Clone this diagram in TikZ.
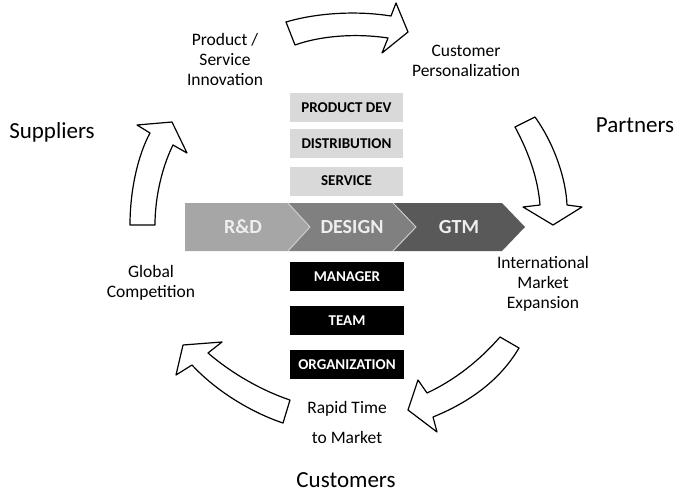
\documentclass[tikz,border=0pt]{standalone}
\usepackage{fontspec}
\setmainfont{Carlito}
\definecolor{boxgray}{HTML}{D9D9D9}
\definecolor{chevA}{HTML}{A6A6A6}
\definecolor{chevB}{HTML}{808080}
\definecolor{chevC}{HTML}{595959}
\definecolor{chevtext}{HTML}{EEEEEE}
\definecolor{sepline}{HTML}{D0D0D0}
\begin{document}
\begin{tikzpicture}[x=1pt,y=-1pt,
  lbl/.style={font=\fontsize{17.5}{20}\selectfont, align=center, inner sep=0pt},
  big/.style={font=\fontsize{23}{26}\selectfont, inner sep=0pt},
  cyc/.style={draw=black, line width=1.2pt, fill=white, line join=round},
  graybox/.style={fill=boxgray, minimum width=113pt, minimum height=29pt, inner sep=0pt, font=\fontsize{15}{17}\selectfont\bfseries},
  blackbox/.style={fill=black, text=white, minimum width=114pt, minimum height=29pt, inner sep=0pt, font=\fontsize{15}{17}\selectfont\bfseries},
  chevlbl/.style={font=\fontsize{20}{22}\selectfont\bfseries, text=chevtext, inner sep=0pt},
  sep/.style={draw=sepline, line width=0.9pt}
]
\useasboundingbox (0,0) rectangle (680,492);

% curved block arrows of the cycle
\path[cyc] (286,22) .. controls (320,12) and (360,11) .. (391,16) -- (396,3) -- (408,32) -- (382,53) -- (388,38) .. controls (355,33) and (320,36) .. (295,45) -- cycle;
\path[cyc] (515,127) -- (535,117) .. controls (555,145) and (566,180) .. (567,205) -- (582,207) -- (553,225) -- (523,207) -- (540,205) .. controls (538,180) and (530,155) .. (515,127) -- cycle;
\path[cyc] (500,337) .. controls (480,360) and (455,380) .. (427,393) -- (418,380) -- (408,410) -- (437,432) -- (433,417) .. controls (470,402) and (500,380) .. (519,348) -- cycle;
\path[cyc] (290,400) .. controls (260,390) and (230,372) .. (208,353) -- (222,342) -- (183,345) -- (176,375) -- (192,365) .. controls (215,390) and (250,412) .. (283,423) -- cycle;
\path[cyc] (130,225) .. controls (130,190) and (138,155) .. (150,133) -- (137,125) -- (172,122) -- (187,153) -- (173,145) .. controls (163,165) and (155,195) .. (155,225) -- cycle;

% chevrons
\path[fill=chevC] (393,203) -- (502,203) -- (525,227) -- (502,251) -- (393,251) -- (416,227) -- cycle;
\path[fill=chevB] (288,203) -- (393,203) -- (416,227) -- (393,251) -- (288,251) -- (310,227) -- cycle;
\path[fill=chevA] (185,203) -- (288,203) -- (310,227) -- (288,251) -- (185,251) -- cycle;
\path[sep] (288,203) -- (310,227) -- (288,251);
\path[sep] (393,203) -- (416,227) -- (393,251);
\node[chevlbl] (rd) at (243,227) {R\&D};
\node[chevlbl] (design) at (352,227) {DESIGN};
\node[chevlbl] (gtm) at (459,227) {GTM};

% boxes
\node[graybox] (pdev) at (346.5,107.5) {PRODUCT DEV};
\node[graybox] (dist) at (346.5,144) {DISTRIBUTION};
\node[graybox] (serv) at (346.5,181) {SERVICE};
\node[blackbox] (mgr) at (347,276.5) {MANAGER};
\node[blackbox] (team) at (347,320.5) {TEAM};
\node[blackbox] (org) at (347,364.5) {ORGANIZATION};

% labels
\node[lbl] (innov) at (225,59) {Product /\\Service\\Innovation};
\node[lbl] (pers) at (466,61) {Customer\\Personalization};
\node[lbl] (intl) at (543,284) {International\\Market\\Expansion};
\node[lbl] (glob) at (151,283) {Global\\Competition};
\node[lbl] (rapid) at (347,422) {Rapid Time\\[10pt]to Market};
\node[big] (supp) at (52,132) {Suppliers};
\node[big] (part) at (635,125) {Partners};
\node[big] (cust) at (346,480) {Customers};
\end{tikzpicture}
\end{document}
